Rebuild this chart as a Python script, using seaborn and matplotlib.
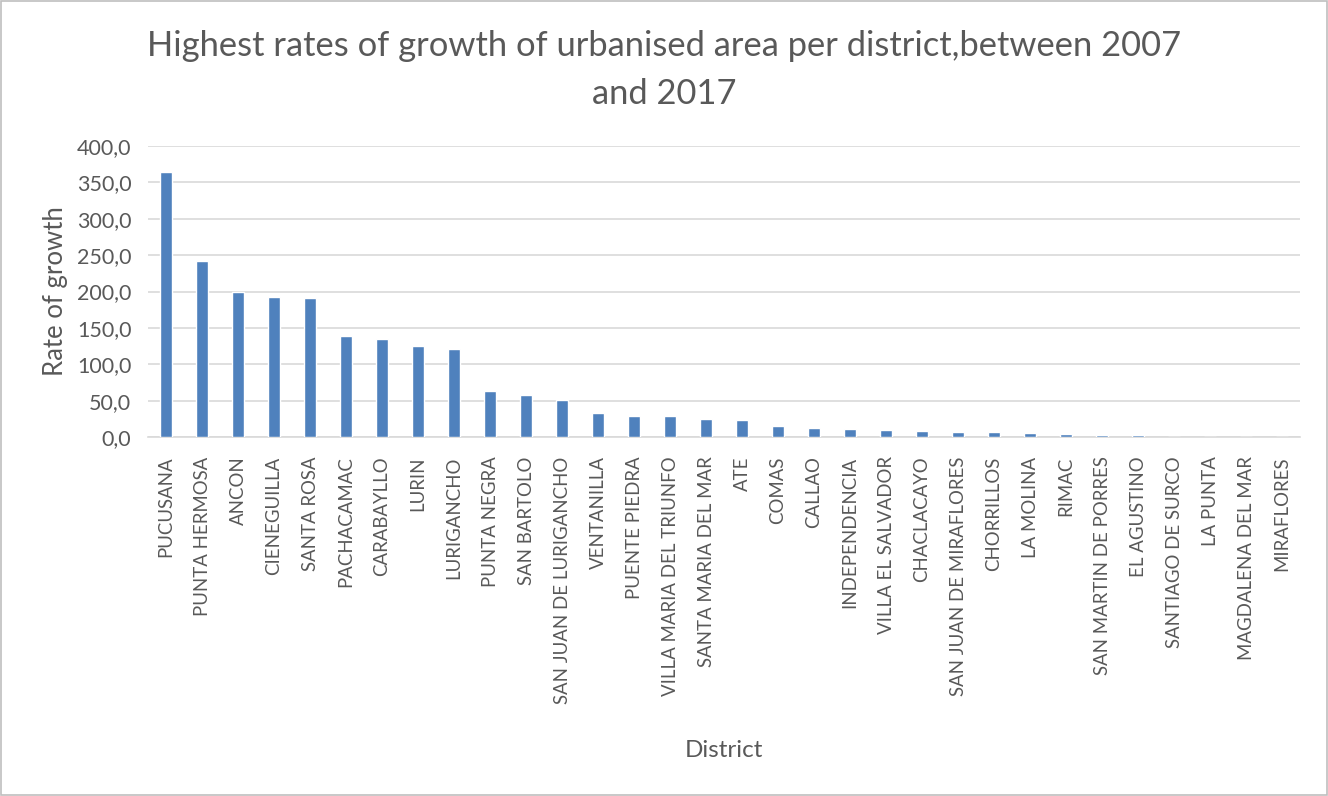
import matplotlib
matplotlib.use("Agg")
import matplotlib.pyplot as plt
import seaborn as sns
import pandas as pd
from matplotlib.ticker import FuncFormatter, MultipleLocator

districts = [
    "PUCUSANA", "PUNTA HERMOSA", "ANCON", "CIENEGUILLA", "SANTA ROSA",
    "PACHACAMAC", "CARABAYLLO", "LURIN", "LURIGANCHO", "PUNTA NEGRA",
    "SAN BARTOLO", "SAN JUAN DE LURIGANCHO", "VENTANILLA", "PUENTE PIEDRA",
    "VILLA MARIA DEL TRIUNFO", "SANTA MARIA DEL MAR", "ATE", "COMAS",
    "CALLAO", "INDEPENDENCIA", "VILLA EL SALVADOR", "CHACLACAYO",
    "SAN JUAN DE MIRAFLORES", "CHORRILLOS", "LA MOLINA", "RIMAC",
    "SAN MARTIN DE PORRES", "EL AGUSTINO", "SANTIAGO DE SURCO", "LA PUNTA",
    "MAGDALENA DEL MAR", "MIRAFLORES",
]
growth = [
    363.7, 242.0, 199.6, 192.1, 191.2,
    138.2, 134.5, 124.9, 120.8, 63.6,
    58.1, 51.4, 33.0, 29.4,
    28.4, 25.2, 23.9, 15.1,
    12.8, 11.5, 10.1, 8.7,
    6.9, 6.9, 6.0, 4.6,
    3.2, 2.3, 0.6, 0.4,
    0.3, 0.1,
]

df = pd.DataFrame({"District": districts, "Rate of growth": growth})

sns.set_theme(style="white")
plt.rcParams["font.family"] = ["Lato", "DejaVu Sans"]
text_color = "#595959"

fig = plt.figure(figsize=(13.28, 7.96), dpi=100)
ax = fig.add_axes([148 / 1328, 1 - 437 / 796, 1152 / 1328, 291 / 796])

sns.barplot(data=df, x="District", y="Rate of growth", color="#4F81BD",
            width=0.31, saturation=1, ax=ax, zorder=3)

ax.set_ylim(0, 400)
ax.set_xlim(-0.5, len(districts) - 0.5)
ax.yaxis.set_major_locator(MultipleLocator(50))
ax.yaxis.set_major_formatter(FuncFormatter(lambda v, p: f"{v:.1f}".replace(".", ",")))
ax.grid(axis="y", color="#D9D9D9", linewidth=1.2, zorder=0)
for s in ["top", "right", "left"]:
    ax.spines[s].set_visible(False)
ax.spines["bottom"].set_color("#D9D9D9")
ax.spines["bottom"].set_linewidth(1.2)
ax.tick_params(axis="both", length=0, colors=text_color)
ax.tick_params(axis="x", labelsize=13.4, pad=14)
ax.tick_params(axis="y", labelsize=15.5, pad=12)
plt.setp(ax.get_xticklabels(), rotation=90)

ax.set_xlabel("District", fontsize=17.5, color=text_color, labelpad=26)
ax.set_ylabel("Rate of growth", fontsize=18.5, color=text_color, labelpad=6)

fig.suptitle("Highest rates of growth of urbanised area per district,between 2007\nand 2017",
             fontsize=24.8, color=text_color, y=0.962, linespacing=1.62)

fig.patches.append(plt.Rectangle((0.0008, 0.0013), 0.9984, 0.9974, transform=fig.transFigure,
                                 fill=False, edgecolor="#BFBFBF", linewidth=1.2))

fig.savefig("out.png", dpi=100, facecolor="white")
